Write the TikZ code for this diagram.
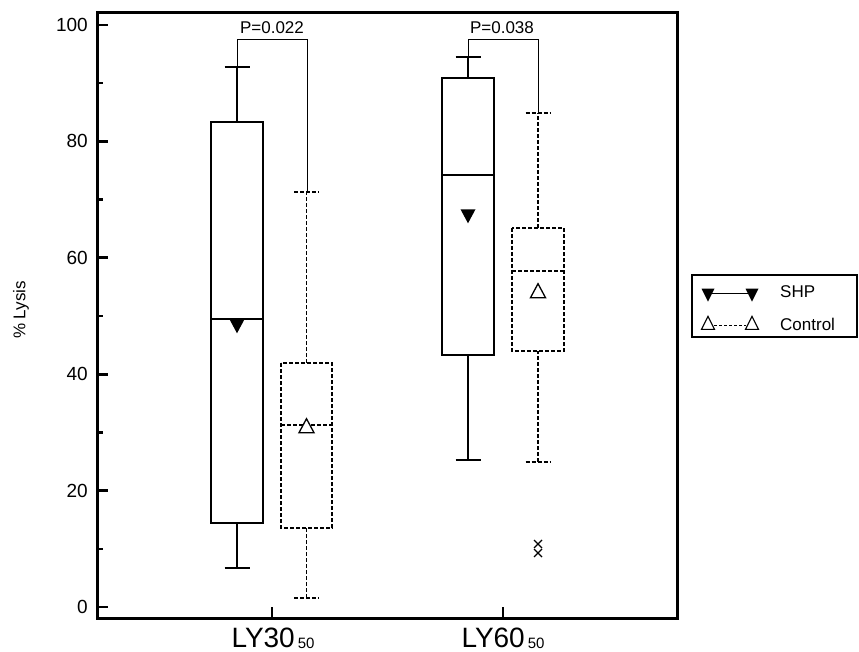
\documentclass[tikz,border=0pt]{standalone}
\usepackage{fontspec}
\setmainfont{Liberation Sans}
\begin{document}
\begin{tikzpicture}[x=1pt,y=-1pt,
  frame/.style={line width=3pt},
  tick/.style={line width=2.6pt},
  boxline/.style={line width=1.6pt},
  dashbox/.style={line width=1.6pt, dash pattern=on 4pt off 2pt},
  bracket/.style={line width=1pt},
  ticklab/.style={anchor=east, inner sep=0pt, font=\fontsize{19}{22}\selectfont},
  plab/.style={anchor=base, inner sep=0pt, font=\fontsize{17}{20}\selectfont},
  leglab/.style={anchor=base west, inner sep=0pt, font=\fontsize{17}{20}\selectfont},
  grplab/.style={anchor=base, inner sep=0pt, font=\fontsize{28}{32}\selectfont},
  tridn/.pic={\fill (-7.5,-4.7) -- (7.5,-4.7) -- (0,9.3) -- cycle;},
  triup/.pic={\draw[line width=1.3pt, fill=white] (-7.5,4.7) -- (7.5,4.7) -- (0,-9.3) -- cycle;},
  smtridn/.pic={\fill (-6.5,-4.3) -- (6.5,-4.3) -- (0,8.7) -- cycle;},
  smtriup/.pic={\draw[line width=1.1pt, fill=white] (-6.5,4.3) -- (6.5,4.3) -- (0,-8.7) -- cycle;},
  xmark/.pic={\draw[line width=1.1pt] (-4,-4) -- (4,4) (-4,4) -- (4,-4);}
]
\useasboundingbox (0,0) rectangle (859,652);

% frame
\draw[frame] (97,13) rectangle (677,618);

% y ticks
\foreach \v in {0,20,40,60,80,100} {
  \draw[tick] (97,{607-5.82*\v}) -- (108,{607-5.82*\v});
}
\foreach \v in {10,30,50,70,90} {
  \draw[tick] (97,{607-5.82*\v}) -- (103,{607-5.82*\v});
}
\node[ticklab] (t0)   at (88,607)   {0};
\node[ticklab] (t20)  at (88,490.6) {20};
\node[ticklab] (t40)  at (88,374.2) {40};
\node[ticklab] (t60)  at (88,257.8) {60};
\node[ticklab] (t80)  at (88,141.4) {80};
\node[ticklab] (t100) at (88,25)    {100};

% x ticks
\draw[tick] (272,618) -- (272,607);
\draw[tick] (503,618) -- (503,607);

% axis labels
\node[rotate=90, inner sep=0pt, font=\fontsize{17}{20}\selectfont] (ylab) at (21,310) {\% Lysis};
\node[grplab] (g1) at (273,647) {LY30\hspace{3pt}{\fontsize{15}{15}\selectfont\raisebox{-1.5pt}{50}}};
\node[grplab] (g2) at (503,647) {LY60\hspace{3pt}{\fontsize{15}{15}\selectfont\raisebox{-1.5pt}{50}}};

% ---- SHP LY30
\draw[boxline] (237,568) -- (237,523) (224.5,568) -- (249.5,568);
\draw[boxline] (237,122) -- (237,67) (224.5,67) -- (249.5,67);
\draw[boxline] (211,122) rectangle (263,523);
\draw[boxline] (211,319) -- (263,319);
\pic at (237,324) {tridn};

% ---- Control LY30
\draw[dashbox] (306.5,598) -- (306.5,528) (294,598) -- (319,598);
\draw[dashbox] (306.5,363) -- (306.5,192) (294,192) -- (319,192);
\draw[dashbox] (281,363) rectangle (332,528);
\draw[dashbox] (281,425) -- (332,425);
\pic at (306.5,428) {triup};

% ---- SHP LY60
\draw[boxline] (468,460) -- (468,355) (455.5,460) -- (480.5,460);
\draw[boxline] (468,78) -- (468,57) (455.5,57) -- (480.5,57);
\draw[boxline] (442,78) rectangle (494,355);
\draw[boxline] (442,175) -- (494,175);
\pic at (468,214) {tridn};

% ---- Control LY60
\draw[dashbox] (538,462) -- (538,351) (525.5,462) -- (550.5,462);
\draw[dashbox] (538,228) -- (538,113) (525.5,113) -- (550.5,113);
\draw[dashbox] (512,228) rectangle (564,351);
\draw[dashbox] (512,271) -- (564,271);
\pic at (538,293) {triup};
\pic at (538,544) {xmark};
\pic at (538,553) {xmark};

% brackets
\draw[bracket] (237,67) -- (237,40) -- (307,40) -- (307,192);
\draw[bracket] (468,57) -- (468,40) -- (538,40) -- (538,113);
\node[plab] (p1) at (272,34) {P=0.022};
\node[plab] (p2) at (502,34) {P=0.038};

% legend
\draw[line width=1.6pt] (692,275) rectangle (857,337);
\draw[line width=1pt] (708,293) -- (752,293);
\pic at (708,293) {smtridn};
\pic at (752,293) {smtridn};
\draw[line width=1pt, dash pattern=on 3pt off 2pt] (714,325) -- (746,325);
\pic at (708,325) {smtriup};
\pic at (752,325) {smtriup};
\node[leglab] (l1) at (780,298) {SHP};
\node[leglab] (l2) at (780,330) {Control};
\end{tikzpicture}
\end{document}
